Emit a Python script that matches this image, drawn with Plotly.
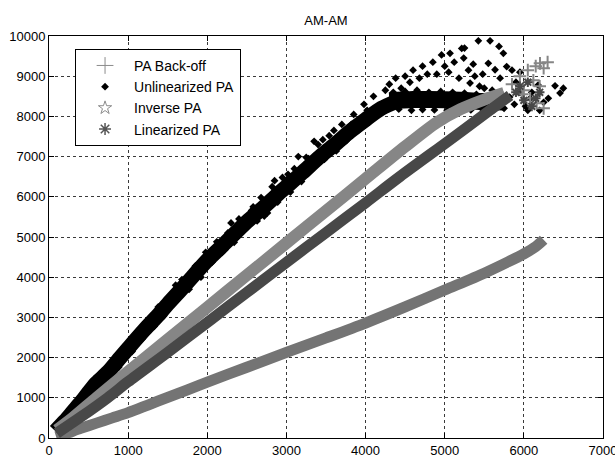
import plotly.graph_objects as go

# ---------------- data ----------------
# PA Back-off : centre of the band of "+" markers
pa_x = [90, 200, 400, 600, 800, 1000, 1250, 1500, 1750, 2000, 2500, 3000, 3500,
        4000, 4500, 5000, 5500, 5800, 6000, 6150, 6250]
pa_y = [30, 100, 240, 370, 500, 630, 820, 1010, 1200, 1390, 1760, 2130, 2490,
        2860, 3260, 3680, 4100, 4380, 4580, 4760, 4930]

# Unlinearized PA : centre of rising band, flat saturated band, scattered points
un_x = [80, 200, 300, 400, 500, 600, 750, 900, 1000, 1200, 1400, 1500, 1700, 2000,
        2200, 2500, 2700, 2900, 3000, 3200, 3424, 3600, 3800, 4000, 4200, 4400]
un_y = [170, 420, 650, 880, 1130, 1370, 1650, 2000, 2230, 2680, 3100, 3330, 3760, 4420,
        4800, 5380, 5720, 6080, 6250, 6600, 7000, 7280, 7620, 7920, 8200, 8380]
un_fx = [4300, 4600, 4800, 5200, 5500, 5750]
un_fy = [8390, 8420, 8420, 8400, 8370, 8360]
un_sx = [150, 230, 330, 420, 470, 560, 640, 700, 820, 880, 950, 1050, 1100, 1180, 1260,
         1330, 1380, 1450, 1550, 1620, 1680, 1770, 1850, 1920, 1980, 2060, 2120, 2190,
         2260, 2340, 2400, 2460, 2560, 2630, 2680, 2760, 2820, 2890, 2950, 3050, 3100,
         3190, 3250, 3330, 3400, 3480, 3540, 3630, 3700, 3760, 3850, 3910, 3980, 4060,
         4100, 4160, 3150, 3350, 2300, 1600, 900, 2850, 3600,
         3020, 3280, 3460, 3720, 3880, 4020, 3560, 3820, 2580, 2720,
         4250, 4300, 4380, 4450, 4500, 4560, 4600, 4680, 4720, 4780, 4850, 4900, 4960,
         5000, 5050, 5067, 5120, 5180, 5215, 5240, 5300, 5320, 5380, 5440,
         4250, 4350, 4420, 4500, 4580, 4650, 4720, 4800, 4870, 4950, 5030, 5100, 5180,
         5250, 5330, 5400, 5480, 5550, 5620, 5680, 5750, 5820, 5880, 5950, 6020, 6080,
         5500, 5600, 5700,
         5425, 5573, 5686, 5741, 5783, 5636, 5551, 5480, 5700, 5850, 5950, 5900, 6180,
         6394, 6499, 6309, 6457, 6100, 6250, 6200, 6050, 5360, 5250]
un_sy = [380, 300, 820, 760, 1200, 1180, 1580, 1430, 1930, 1760, 2230, 2150, 2600, 2470, 2950,
         2780, 3260, 3040, 3580, 3430, 3940, 3700, 4280, 4000, 4620, 4370, 4880, 4620,
         5100, 4870, 5450, 5160, 5660, 5400, 5980, 5600, 6250, 5870, 6480, 6120, 6700,
         6380, 6980, 6700, 7300, 6930, 7520, 7140, 7800, 7400, 8050, 7650, 8300, 7900,
         8500, 8100, 7000, 7380, 5350, 3800, 2150, 6400, 7650,
         6560, 6950, 7420, 7460, 7700, 8150, 7200, 7800, 5750, 5520,
         8650, 8800, 8950, 8700, 9000, 8850, 9150, 8950, 9250, 9050, 9350, 9050, 9530,
         9250, 9100, 9570, 9350, 8950, 9690, 9450, 9150, 8830, 9000, 8750,
         8160, 8600, 8180, 8620, 8150, 8650, 8170, 8600, 8160, 8620, 8150, 8600, 8170,
         8580, 8160, 8550, 8170, 8500, 8160, 8450, 8200, 8480, 8300, 8600, 8250, 8450,
         8700, 8650, 8600,
         9880, 9880, 9740, 9570, 9240, 9160, 9320, 9050, 8950, 9150, 9100, 8850, 8780,
         8760, 8700, 8450, 8580, 8600, 8350, 8150, 8150, 9300, 9700]

# Inverse PA : band centre and scattered stars at the end
inv_x = [100, 300, 600, 1000, 1500, 2000, 2500, 3000, 3500, 4000, 4500, 4900, 5200,
         5500, 5750]
inv_y = [200, 500, 1000, 1650, 2450, 3250, 4050, 4850, 5650, 6450, 7250, 7850, 8180,
         8420, 8580]
inv_sx = [5850, 5950, 6050, 6150, 6204, 6250, 6300, 6120, 6000, 6162, 6250, 6080, 5980, 6200]
inv_sy = [8800, 9000, 9150, 9250, 9320, 9200, 9350, 8900, 8650, 8330, 8200, 8450, 8550, 8750]

# Linearized PA : band centre and scattered points at the end
lin_x = [100, 400, 741, 1000, 1500, 2056, 2500, 3000, 3500, 4000, 4435, 5067, 5500, 5825]
lin_y = [120, 520, 1000, 1400, 2130, 2960, 3620, 4370, 5110, 5850, 6505, 7416, 8050, 8520]
lin_sx = [5900, 6000, 6100, 6200, 6050, 6150, 5950]
lin_sy = [8600, 8400, 8250, 8600, 8850, 8450, 8750]

names = ["PA Back-off", "Unlinearized PA", "Inverse PA", "Linearized PA"]
x_ticks = [0, 1000, 2000, 3000, 4000, 5000, 6000, 7000]
y_ticks = [0, 1000, 2000, 3000, 4000, 5000, 6000, 7000, 8000, 9000, 10000]

C_PA = "#747474"
C_UN = "#000000"
C_INV = "#868686"
C_LIN = "#484848"
FONT = "Liberation Sans, Arial, sans-serif"

fig = go.Figure()

def band(x, y, color, width):
    return go.Scatter(x=x, y=y, mode="lines", showlegend=False, hoverinfo="skip",
                      line=dict(color=color, width=width, shape="spline", smoothing=0.8))

# PA Back-off
fig.add_trace(band(pa_x, pa_y, C_PA, 11))
# Unlinearized PA
fig.add_trace(band(un_x, un_y, C_UN, 15))
fig.add_trace(band(un_fx, un_fy, C_UN, 17))
fig.add_trace(go.Scatter(x=un_sx, y=un_sy, mode="markers", showlegend=False,
                         marker=dict(symbol="diamond", size=6, color=C_UN,
                                     line=dict(width=0))))
# Inverse PA
fig.add_trace(band(inv_x, inv_y, C_INV, 12))
fig.add_trace(go.Scatter(x=inv_sx, y=inv_sy, mode="markers", showlegend=False,
                         marker=dict(symbol="cross-thin-open", size=9, color=C_INV,
                                     line=dict(color=C_INV, width=2))))
# Linearized PA
fig.add_trace(band(lin_x, lin_y, C_LIN, 11))
fig.add_trace(go.Scatter(x=lin_sx, y=lin_sy, mode="markers", showlegend=False,
                         marker=dict(symbol="asterisk-open", size=8, color=C_LIN,
                                     line=dict(color=C_LIN, width=2))))

# legend entries (marker symbols as in the reference legend)
legend_markers = [
    dict(symbol="cross-thin-open", size=12, color="#8c8c8c", line=dict(color="#8c8c8c", width=1)),
    dict(symbol="diamond", size=6, color="#000000", line=dict(width=0)),
    dict(symbol="star-open", size=10, color="#8c8c8c", line=dict(color="#8c8c8c", width=1)),
    dict(symbol="asterisk-open", size=10, color="#555555", line=dict(color="#555555", width=1.5)),
]
for nm, mk in zip(names, legend_markers):
    fig.add_trace(go.Scatter(x=[None], y=[None], mode="markers", name=nm, marker=mk))

axis_common = dict(
    showline=True, linecolor="#000000", linewidth=1, mirror="ticks",
    ticks="inside", ticklen=5, tickcolor="#000000",
    showgrid=True, gridcolor="#3a3a3a", griddash="dot", gridwidth=1,
    zeroline=False, ticklabeloverflow="allow",
    tickfont=dict(family=FONT, size=13, color="#000000"),
)

fig.update_layout(
    width=615, height=457,
    margin=dict(l=49, r=12, t=36, b=19, autoexpand=False),
    paper_bgcolor="white", plot_bgcolor="white",
    title=dict(text="AM-AM", x=0.5, xref="paper", y=1 - 20 / 457, yref="container",
               xanchor="center", yanchor="middle",
               font=dict(family=FONT, size=13, color="#000000")),
    xaxis=dict(range=[0, 7000], tickvals=x_ticks, ticktext=[str(v) for v in x_ticks],
               **axis_common),
    yaxis=dict(range=[0, 10000], tickvals=y_ticks, ticktext=[str(v) for v in y_ticks],
               **axis_common),
    legend=dict(x=0.047, y=0.968, xanchor="left", yanchor="top",
                bgcolor="white", bordercolor="#000000", borderwidth=1,
                font=dict(family=FONT, size=14, color="#000000"),
                itemwidth=48, traceorder="normal"),
    showlegend=True,
)

fig.write_html("out.html")
